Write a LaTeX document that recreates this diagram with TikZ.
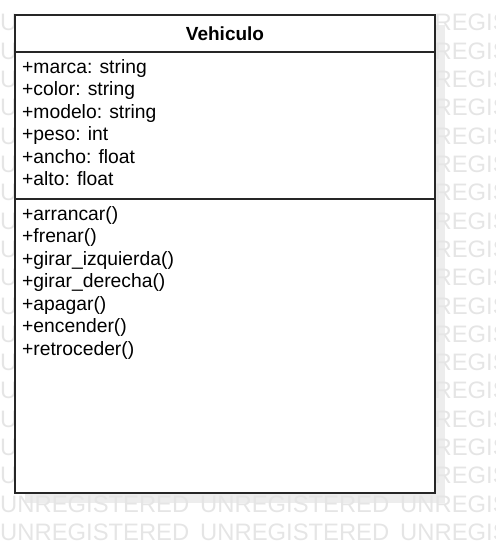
\documentclass[tikz,border=0pt]{standalone}
\usepackage{fontspec}
\setmainfont{Liberation Sans}
\usepackage{tikz}
\usetikzlibrary{positioning}
\usetikzlibrary{backgrounds}
\definecolor{umlline}{gray}{0.15}
\definecolor{shadowgray}{gray}{0.93}
\definecolor{markgray}{gray}{0.9}
\tikzset{classbox/.style={draw=umlline, fill=white, line width=1.6pt, minimum width=420pt, inner sep=0pt, outer sep=0pt},
members/.style={anchor=north west, align=left, inner sep=0pt, font=\fontsize{19.3}{22.5}\selectfont},
watermark/.style={anchor=base west, inner sep=0pt, text=markgray, font=\fontsize{23.8}{28}\selectfont}}

\begin{document}
\begin{tikzpicture}[x=1pt,y=-1pt]
\useasboundingbox (0,0) rectangle (495,553);

\node (title) [classbox, minimum height=37pt, font=\fontsize{19}{22.5}\selectfont\bfseries] at (225,33.5) {Vehiculo};
\node (attrs) [classbox, below=0pt of title, minimum height=147pt] {};
\node (meths) [classbox, below=0pt of attrs, minimum height=294pt] {};

\node (attrlist) [members] at ([xshift=7pt,yshift=-5.5pt]attrs.north west) {\strut+marca: string\\+color: string\\+modelo: string\\+peso: int\\+ancho: float\\+alto: float};
\node (methlist) [members] at ([xshift=7pt,yshift=-5.3pt]meths.north west) {\strut+arrancar()\\+frenar()\\+girar\_izquierda()\\+girar\_derecha()\\+apagar()\\+encender()\\+retroceder()};

% shadow and watermark behind the class
\begin{scope}[on background layer]
\fill[shadowgray] ([shift={(10pt,-10pt)}]title.north west) rectangle ([shift={(10pt,-10pt)}]meths.south east);
% rows beside the class: only the ends show
\foreach \r in {0,...,16} {
  \node (wml-\r) [watermark] at (0,31+28.3*\r) {U};
  \node (wmr-\r) [watermark] at (400,31+28.3*\r) {\phantom{UN}REGISTERED};
}
% rows below the class
\foreach \r in {17,18}
  \foreach \c in {0,1,2}
    \node (wm-\r-\c) [watermark] at (200*\c,31+28.3*\r) {UNREGISTERED};
\end{scope}
\end{tikzpicture}
\end{document}
